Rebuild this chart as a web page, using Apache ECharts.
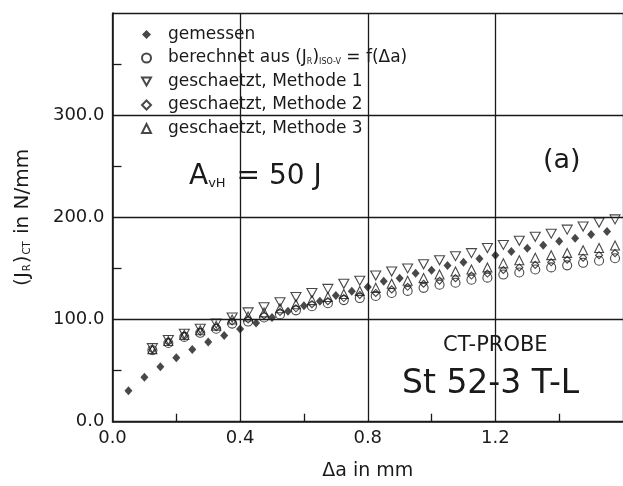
<!DOCTYPE html>
<html>
<head>
<meta charset="utf-8">
<script src="https://cdn.jsdelivr.net/npm/echarts@6/dist/echarts.min.js"></script>
<style>
html,body{margin:0;padding:0;background:#fff;}
#c{width:623px;height:486px;}
</style>
</head>
<body>
<div id="c"></div>
<script>
// gemessen (filled diamonds)
var xMeas = [0.05,0.10,0.15,0.20,0.25,0.30,0.35,0.40,0.45,0.50,0.55,0.60,0.65,0.70,0.75,0.80,0.85,0.90,0.95,1.00,1.05,1.10,1.15,1.20,1.25,1.30,1.35,1.40,1.45,1.50,1.55];
var yMeas = [30.4,43.6,53.7,62.5,70.7,77.9,84.4,90.7,96.5,102,108,113.5,117.8,123.4,127.6,131.9,137.4,140.4,145.3,148.2,152.8,156,159.4,162.8,166.5,169.8,172.7,176.6,179.6,183.2,186.2];
// x positions of calculated / estimated series
var xCalc = [0.125,0.175,0.225,0.275,0.325,0.375,0.425,0.475,0.525,0.575,0.625,0.675,0.725,0.775,0.825,0.875,0.925,0.975,1.025,1.075,1.125,1.175,1.225,1.275,1.325,1.375,1.425,1.475,1.525,1.575];
var yBerechnet = [70,77,83,87,91,96,98,102,105,109,113,116,119,121,123,126,128,131,134,136,139,141,144,146,149,151,153,155.5,157.5,160];
var yMethode1 = [72,80,86,91,96,102,107,112,117,122,126,130,135,138,143,147,150,154,158,162,165,170,173,177,181,184,188,191,195,198];
var yMethode2 = [70.5,78,84,88,92.5,98,100,104,107.5,111,115,118,121,124,126,129.5,132,135,138,140.5,143,145,148.5,151,153.5,156,158.5,160.5,163,165];
var yMethode3 = [71,79,85,89.5,94,100,103,107,111,115,119,122,125,128,131,135,138,140.7,144,147,149,151,155,158,160.4,163,165.2,167.8,170,172.4];
var xTickLabels = ['0.0','0.4','0.8','1.2'];
var yTickLabels = ['0.0','100.0','200.0','300.0'];

function pairs(xs, ys){ return xs.map(function(x,i){ return [x, ys[i]]; }); }

var FONT = 'DejaVu Sans';
var INK = '#1a1a1a';
var openStyle = {color:'rgba(0,0,0,0)', borderColor:INK, borderWidth:1.1};

var chart = echarts.init(document.getElementById('c'), null, {renderer:'canvas'});
chart.setOption({
  animation:false,
  backgroundColor:'#fff',
  textStyle:{fontFamily:FONT, color:INK},
  grid:{left:112.5, right:-5.5, top:13, bottom:64.3},
  xAxis:{
    type:'value', min:0, max:1.6, interval:0.4,
    name:'Δa in mm', nameLocation:'middle', nameGap:40,
    nameTextStyle:{fontSize:19, color:INK, fontFamily:FONT},
    axisLine:{show:true, lineStyle:{color:INK, width:1.6}},
    axisTick:{show:false, inside:true, length:8},
    minorTick:{show:true, splitNumber:2, length:8, lineStyle:{color:INK, width:1.3}},
    axisLabel:{fontSize:18, color:INK, margin:8, showMaxLabel:false,
      formatter:function(v){ var i = Math.round(v/0.4); return xTickLabels[i] || ''; }},
    splitLine:{show:true, lineStyle:{color:INK, width:1.3}}
  },
  yAxis:{
    type:'value', min:0, max:400, interval:100,
    name:'{t|(J}{s|R}{t|)}{s|CT}{t| in N/mm}', nameLocation:'middle', nameRotate:90, nameGap:80,
    nameTextStyle:{fontSize:20, color:INK, fontFamily:FONT,
      rich:{t:{fontSize:20, fontFamily:FONT, color:INK}, s:{fontSize:10, fontFamily:FONT, color:INK, padding:[10,1,0,1]}}},
    axisLine:{show:true, lineStyle:{color:INK, width:1.6}},
    axisTick:{show:false, inside:true, length:9},
    minorTick:{show:true, splitNumber:2, length:9, lineStyle:{color:INK, width:1.3}},
    axisLabel:{fontSize:18, color:INK, margin:8, showMaxLabel:false,
      formatter:function(v){ var i = Math.round(v/100); return yTickLabels[i] || ''; }},
    splitLine:{show:true, lineStyle:{color:INK, width:1.3}}
  },
  legend:{
    orient:'vertical', left:136, top:21, itemWidth:9, itemHeight:9, itemGap:6.5,
    textStyle:{fontSize:17, fontFamily:FONT, color:INK, padding:[0,0,0,12],
      rich:{t:{fontSize:17, fontFamily:FONT, color:INK}, s:{fontSize:8, fontFamily:FONT, color:INK, padding:[8,0,0,0]}}},
    formatter:function(name){
      if (name.indexOf('berechnet')===0) return '{t|berechnet aus (J}{s|R}{t|)}{s|ISO-V}{t| = f(Δa)}';
      return '{t|'+name+'}';
    },
    data:['gemessen','berechnet','geschaetzt, Methode 1','geschaetzt, Methode 2','geschaetzt, Methode 3']
  },
  series:[
    {name:'gemessen', type:'scatter', symbol:'diamond', symbolSize:[8,9],
     itemStyle:{color:INK}, data:pairs(xMeas,yMeas), z:5},
    {name:'berechnet', type:'scatter', symbol:'circle', symbolSize:9,
     itemStyle:openStyle, data:pairs(xCalc,yBerechnet)},
    {name:'geschaetzt, Methode 1', type:'scatter', symbol:'path://M0,0 L10,0 L5,9 Z', symbolSize:[10,9],
     itemStyle:openStyle, data:pairs(xCalc,yMethode1)},
    {name:'geschaetzt, Methode 2', type:'scatter', symbol:'diamond', symbolSize:[7,7],
     itemStyle:openStyle, data:pairs(xCalc,yMethode2)},
    {name:'geschaetzt, Methode 3', type:'scatter', symbol:'triangle', symbolSize:[9,9],
     itemStyle:openStyle, data:pairs(xCalc,yMethode3)}
  ],
  graphic:[
    {type:'text', left:189, top:163, z:10, style:{
      text:'{a|A}{s|vH}{a| = 50 J}', fill:INK,
      rich:{a:{fontSize:28, fontFamily:FONT, fill:INK}, s:{fontSize:13, fontFamily:FONT, fill:INK, padding:[14,2,0,0]}}}},
    {type:'text', left:543, top:147, z:10, style:{text:'(a)', fontSize:27, fontFamily:FONT, fill:INK}},
    {type:'text', left:443, top:335, z:10, style:{text:'CT-PROBE', fontSize:21, fontFamily:FONT, fill:INK}},
    {type:'text', left:402, top:368, z:10, style:{text:'St 52-3 T-L', fontSize:33, fontFamily:FONT, fill:INK}}
  ]
});
</script>
</body>
</html>
